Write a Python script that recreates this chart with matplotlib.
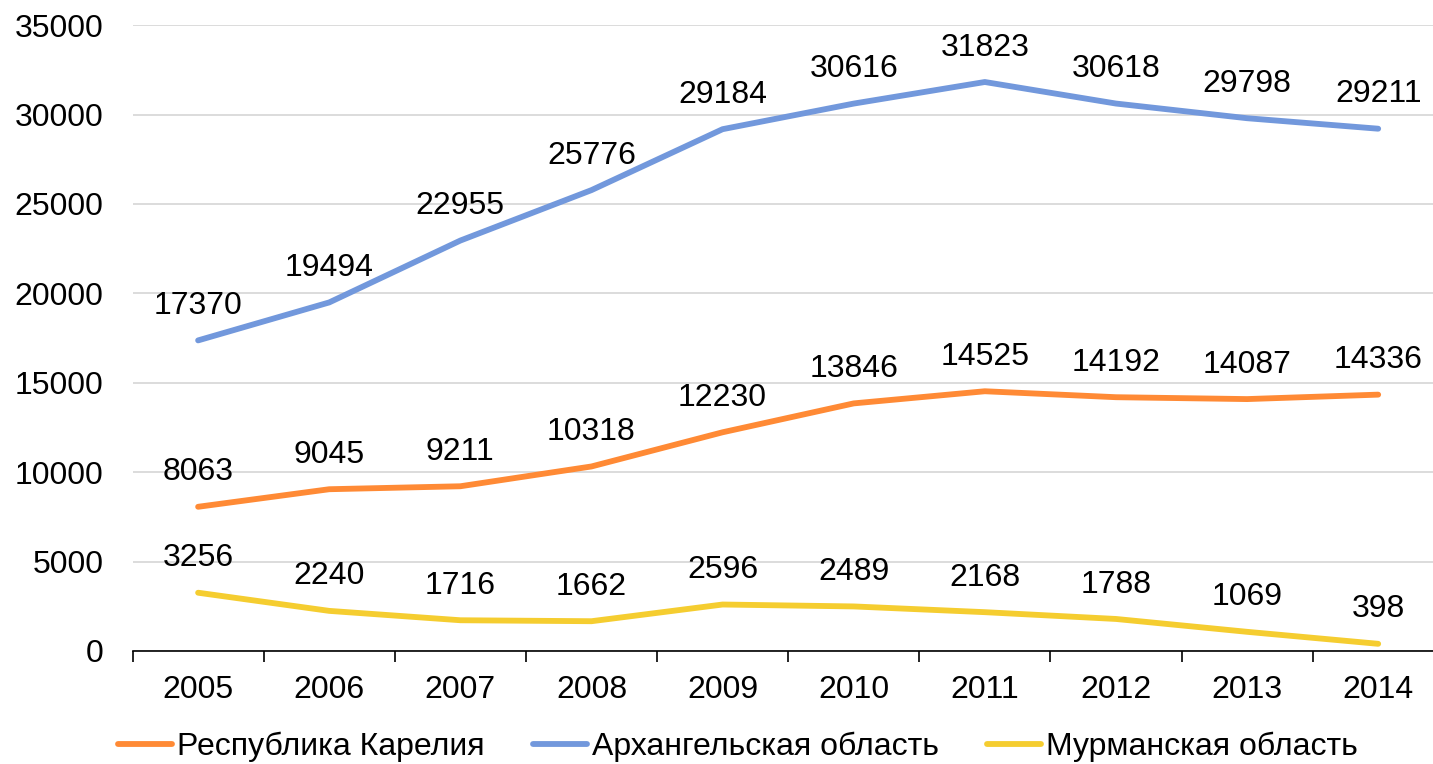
import matplotlib.pyplot as plt

plt.rcParams['font.family'] = ['Liberation Sans', 'DejaVu Sans']

years = ['2005', '2006', '2007', '2008', '2009', '2010', '2011', '2012', '2013', '2014']
karelia = [8063, 9045, 9211, 10318, 12230, 13846, 14525, 14192, 14087, 14336]
arkhangelsk = [17370, 19494, 22955, 25776, 29184, 30616, 31823, 30618, 29798, 29211]
murmansk = [3256, 2240, 1716, 1662, 2596, 2489, 2168, 1788, 1069, 398]

series = [
    ('Республика Карелия', karelia, '#FF8A35'),
    ('Архангельская область', arkhangelsk, '#7298DC'),
    ('Мурманская область', murmansk, '#F5CD30'),
]

fig = plt.figure(figsize=(14.33, 7.64), dpi=100)
ax = fig.add_axes([0.0925, 0.148, 0.915, 0.819])

x = list(range(len(years)))
for name, vals, color in series:
    ax.plot(x, vals, color=color, linewidth=4.2, solid_capstyle='round', label=name)
    for xi, v in zip(x, vals):
        ax.annotate(str(v), (xi, v), xytext=(0, 14), textcoords='offset points',
                    ha='center', va='bottom', fontsize=23, color='black')

ax.set_xlim(-0.5, len(years) - 0.5)
ax.set_ylim(0, 35000)
ax.set_yticks(range(0, 35001, 5000))
ax.set_xticks(x)
ax.set_xticklabels(years)
ax.set_xticks([i - 0.5 for i in range(len(years) + 1)], minor=True)
ax.tick_params(axis='x', which='major', length=0, pad=17, labelsize=23)
ax.tick_params(axis='x', which='minor', length=8, width=1.2, color='black')
ax.tick_params(axis='y', length=0, pad=21, labelsize=23)
ax.grid(True, axis='y', color='#D9D9D9', linewidth=1.3)
ax.set_axisbelow(True)
for s in ['top', 'right', 'left']:
    ax.spines[s].set_visible(False)
ax.spines['bottom'].set_linewidth(1.2)

fig.legend(loc='lower center', bbox_to_anchor=(0.515, -0.035), ncol=3, frameon=False,
           fontsize=23, handlelength=1.7, handletextpad=0.15, columnspacing=1.5)

fig.savefig('out.png', dpi=100)
